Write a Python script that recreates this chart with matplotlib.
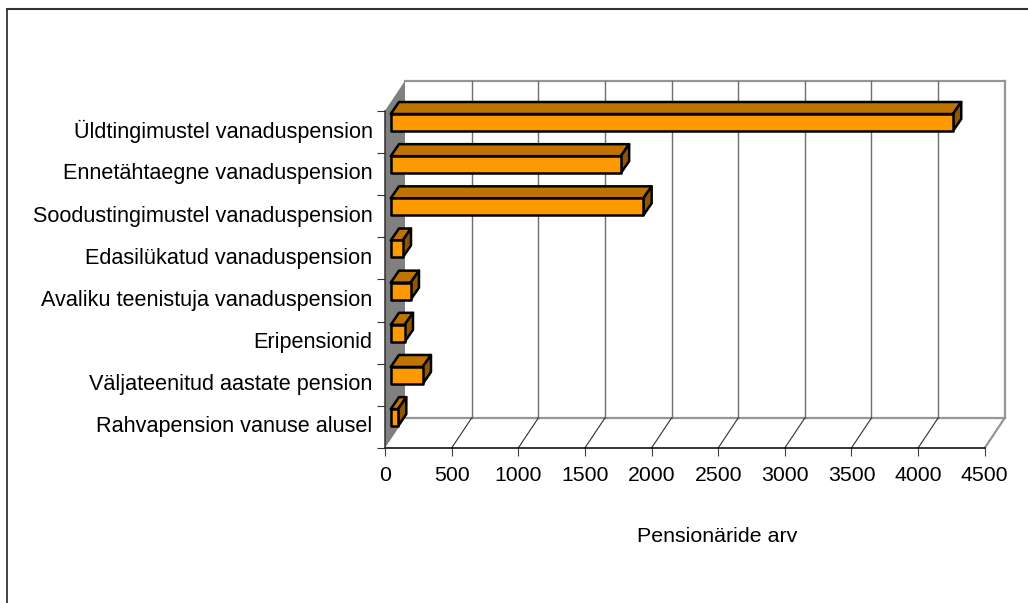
import matplotlib
matplotlib.use("Agg")
import matplotlib.pyplot as plt
from matplotlib.lines import Line2D
from matplotlib.patches import Polygon

categories = ["Rahvapension vanuse alusel", "Väljateenitud aastate pension", "Eripensionid",
              "Avaliku teenistuja vanaduspension", "Edasilükatud vanaduspension",
              "Soodustingimustel vanaduspension", "Ennetähtaegne vanaduspension",
              "Üldtingimustel vanaduspension"]
values = [55, 240, 105, 150, 90, 1896, 1727, 4219]
xticks = [0, 500, 1000, 1500, 2000, 2500, 3000, 3500, 4000, 4500]
xlabel = "Pensionäride arv"

plt.rcParams['font.family'] = ['Liberation Sans', 'DejaVu Sans']
W, H = 1028, 603
fig = plt.figure(figsize=(W/100, H/100), dpi=100)
fig.add_artist(Line2D([6.7/W, 6.7/W], [0, 1-9/H], transform=fig.transFigure, color='#111111', lw=1.1))
fig.add_artist(Line2D([6.7/W, 1], [1-9/H, 1-9/H], transform=fig.transFigure, color='#333333', lw=1.5))

x0, x1, ybot, ytop = 385, 984.7, 448, 110.7
ax = fig.add_axes([x0/W, 1-ybot/H, (x1-x0)/W, (ybot-ytop)/H])
ax.set_xlim(0, 4500)
ax.set_ylim(0, 8)
ax.patch.set_visible(False)
for s in ax.spines.values():
    s.set_visible(False)

ux = 4500/(x1-x0)
sy = 8/(ybot-ytop)
dx = 20*ux
dy = 30*sy
GRID = '#969696'

# wall
ax.add_patch(Polygon([(0, 0), (dx, dy), (dx, 8+dy), (0, 8)], fc='#808080', ec='none', clip_on=False, zorder=1))
# back frame
for xs, ys in [((dx, 4500+dx), (8+dy, 8+dy)), ((4500+dx, 4500+dx), (dy, 8+dy)),
               ((dx, 4500+dx), (dy, dy)), ((4500, 4500+dx), (0, dy))]:
    ax.plot(xs, ys, color=GRID, lw=1.6, clip_on=False, zorder=2, solid_capstyle='projecting')
# grid
for t in xticks[1:-1]:
    ax.plot([t+dx, t+dx], [dy, 8+dy], color='#6e6e6e', lw=1.0, clip_on=False, zorder=2)
    ax.plot([t, t+dx], [0, dy], color='#303030', lw=0.8, clip_on=False, zorder=2)

# axes lines and ticks
ax.plot([0, 4500], [0, 0], color='black', lw=1.1, clip_on=False, zorder=3)
ax.plot([0, 0], [0, 8], color='#303030', lw=1.1, clip_on=False, zorder=3)
ax.set_xticks(xticks)
ax.set_yticks(range(9))
ax.set_yticks([i+0.5 for i in range(8)], minor=True)
ax.set_yticklabels([])
ax.set_yticklabels(categories, minor=True)
ax.tick_params(axis='x', length=6, width=0.8, color='#404040', labelsize=15.3, pad=7)
ax.tick_params(axis='y', which='major', length=6, width=0.8, color='#303030')
ax.tick_params(axis='y', which='minor', length=0, labelsize=15.6, pad=9)
for lab in ax.get_yticklabels(minor=True):
    lab.set_verticalalignment('center')
ax.set_xlabel(xlabel, fontsize=15.4)
ax.xaxis.set_label_coords((717-x0)/(x1-x0), -(536-ybot)/(ybot-ytop), transform=ax.transAxes)
ax.xaxis.label.set_verticalalignment('center')

# bars
ox = 5.7*ux
bx = 8.3*ux
by = 12*sy
bh = 17*sy
gap = 3.3*sy
for i, v in enumerate(values):
    yt = i + 1 - gap
    yb = yt - bh
    l, r = ox, ox + v
    kw = dict(ec='black', lw=1.8, joinstyle='round', clip_on=False, zorder=5)
    ax.add_patch(Polygon([(l, yt), (l+bx, yt+by), (r+bx, yt+by), (r, yt)], fc='#bf7300', **kw))
    ax.add_patch(Polygon([(r, yb), (r+bx, yb+by), (r+bx, yt+by), (r, yt)], fc='#8f5600', **kw))
    ax.add_patch(Polygon([(l, yb), (r, yb), (r, yt), (l, yt)], fc='#ff9900', **kw))

fig.savefig("out.png", dpi=100)
